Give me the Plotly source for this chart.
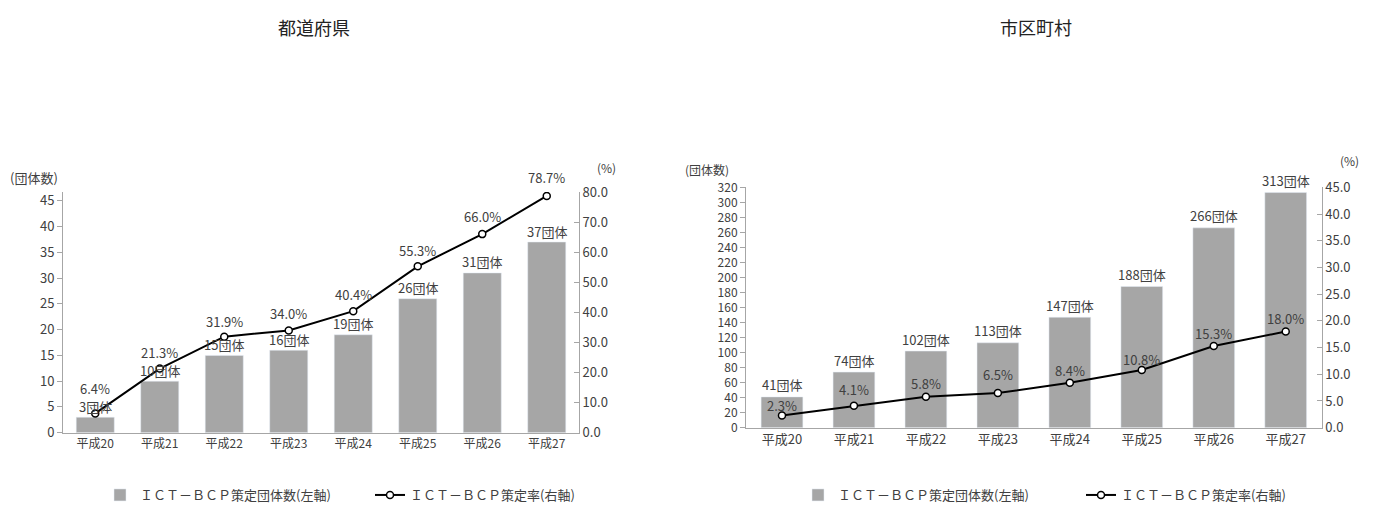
import plotly.graph_objects as go

categories = ["平成20", "平成21", "平成22", "平成23", "平成24", "平成25", "平成26", "平成27"]

pref_counts = [3, 10, 15, 16, 19, 26, 31, 37]
pref_rates = [6.4, 21.3, 31.9, 34.0, 40.4, 55.3, 66.0, 78.7]

muni_counts = [41, 74, 102, 113, 147, 188, 266, 313]
muni_rates = [2.3, 4.1, 5.8, 6.5, 8.4, 10.8, 15.3, 18.0]

titles = ["都道府県", "市区町村"]
bar_name = "ＩＣＴ－ＢＣＰ策定団体数(左軸)"
line_name = "ＩＣＴ－ＢＣＰ策定率(右軸)"

FONT = "Noto Sans CJK JP"
TXT = "#404040"
AX = "#A6A6A6"
BAR = "#A6A6A6"

W, H = 1378, 506
def px(x):
    return x / W
def py(y):
    return 1 - y / H

# label offsets (pixels above the point)
pref_rate_shift = [25, 16, 15, 17, 17, 16, 18, 18]
muni_rate_shift = [10, 16, 13, 18, 12, 11, 12, 13]

fig = go.Figure()

fig.add_trace(go.Bar(x=categories, y=pref_counts, name=bar_name, marker=dict(color=BAR),
                     width=0.59, xaxis="x", yaxis="y", legend="legend"))
fig.add_trace(go.Scatter(x=categories, y=pref_rates, name=line_name, mode="lines+markers",
                         line=dict(color="black", width=2),
                         marker=dict(symbol="circle", size=7, color="white", line=dict(color="black", width=1.5)),
                         xaxis="x", yaxis="y2", legend="legend"))
fig.add_trace(go.Bar(x=categories, y=muni_counts, name=bar_name, marker=dict(color=BAR),
                     width=0.58, xaxis="x2", yaxis="y3", legend="legend2"))
fig.add_trace(go.Scatter(x=categories, y=muni_rates, name=line_name, mode="lines+markers",
                         line=dict(color="black", width=2),
                         marker=dict(symbol="circle", size=7, color="white", line=dict(color="black", width=1.5)),
                         xaxis="x2", yaxis="y4", legend="legend2"))

lab = dict(size=13, color=TXT, family=FONT)
annotations = []
for c, v in zip(categories, pref_counts):
    annotations.append(dict(x=c, y=v, xref="x", yref="y", text=f"{v}団体", showarrow=False,
                            yshift=11, font=lab))
for c, v, s in zip(categories, pref_rates, pref_rate_shift):
    annotations.append(dict(x=c, y=v, xref="x", yref="y2", text=f"{v:.1f}%", showarrow=False,
                            yshift=s, font=lab))
for c, v in zip(categories, muni_counts):
    annotations.append(dict(x=c, y=v, xref="x2", yref="y3", text=f"{v}団体", showarrow=False,
                            yshift=12, font=lab))
for c, v, s in zip(categories, muni_rates, muni_rate_shift):
    annotations.append(dict(x=c, y=v, xref="x2", yref="y4", text=f"{v:.1f}%", showarrow=False,
                            yshift=s, font=lab))

def paper_text(x, y, text, size, anchor="center", color=TXT):
    return dict(x=px(x), y=py(y), xref="paper", yref="paper", xanchor=anchor, yanchor="middle",
                text=text, showarrow=False, font=dict(size=size, color=color, family=FONT))

annotations.append(paper_text(314, 27, titles[0], 18, color="#222222"))
annotations.append(paper_text(1036, 27, titles[1], 18, color="#222222"))
annotations.append(paper_text(8, 177, "(団体数)", 13, "left"))
annotations.append(paper_text(595, 167, "(%)", 12, "left"))
annotations.append(paper_text(683, 169, "(団体数)", 12, "left"))
annotations.append(paper_text(1338, 161, "(%)", 12, "left"))

xtick = dict(size=12, color=TXT, family=FONT)
ytick = dict(size=13, color=TXT, family=FONT)
ytick_small = dict(size=12, color=TXT, family=FONT)

fig.update_layout(
    width=W, height=H,
    margin=dict(l=0, r=0, t=0, b=0, autoexpand=False),
    paper_bgcolor="white", plot_bgcolor="white",
    font=dict(family=FONT, color=TXT),
    annotations=annotations,
    xaxis=dict(domain=[px(63), px(579)], anchor="y", showline=True, linecolor=AX, linewidth=1,
               ticks="", tickfont=xtick, showgrid=False),
    yaxis=dict(domain=[py(432.7), py(192)], anchor="x", range=[0, 46.7], tickvals=list(range(0, 50, 5)),
               showline=True, linecolor=AX, ticks="outside", ticklen=5, tickcolor=AX,
               showgrid=False, zeroline=False, tickfont=ytick),
    yaxis2=dict(overlaying="y", side="right", anchor="x", range=[0, 80], tickvals=list(range(0, 90, 10)),
                tickformat=".1f", showline=True, linecolor=AX, ticks="inside", ticklen=5, tickcolor=AX,
                showgrid=False, zeroline=False, tickfont=ytick),
    xaxis2=dict(domain=[px(746), px(1321.7)], anchor="y3", showline=True, linecolor=AX, linewidth=1,
                ticks="", tickfont=dict(size=13, color=TXT, family=FONT), showgrid=False),
    yaxis3=dict(domain=[py(427.7), py(187.3)], anchor="x2", range=[0, 320], tickvals=list(range(0, 340, 20)),
                showline=True, linecolor=AX, ticks="outside", ticklen=5, tickcolor=AX,
                showgrid=False, zeroline=False, tickfont=ytick_small),
    yaxis4=dict(overlaying="y3", side="right", anchor="x2", range=[0, 45], tickvals=[i * 5 for i in range(10)],
                tickformat=".1f", showline=True, linecolor=AX, ticks="inside", ticklen=5, tickcolor=AX,
                showgrid=False, zeroline=False, tickfont=ytick),
    legend=dict(orientation="h", x=px(100), y=py(495), xanchor="left", yanchor="middle",
                font=dict(size=13, color=TXT, family=FONT), bgcolor="rgba(0,0,0,0)",
                entrywidth=225, itemwidth=30),
    legend2=dict(orientation="h", x=px(798), y=py(495), xanchor="left", yanchor="middle",
                 font=dict(size=13, color=TXT, family=FONT), bgcolor="rgba(0,0,0,0)",
                 entrywidth=238, itemwidth=30),
)

fig.write_html("out.html", config={"displayModeBar": False},
               post_script="document.body.style.margin='0';document.body.style.overflow='hidden';")
